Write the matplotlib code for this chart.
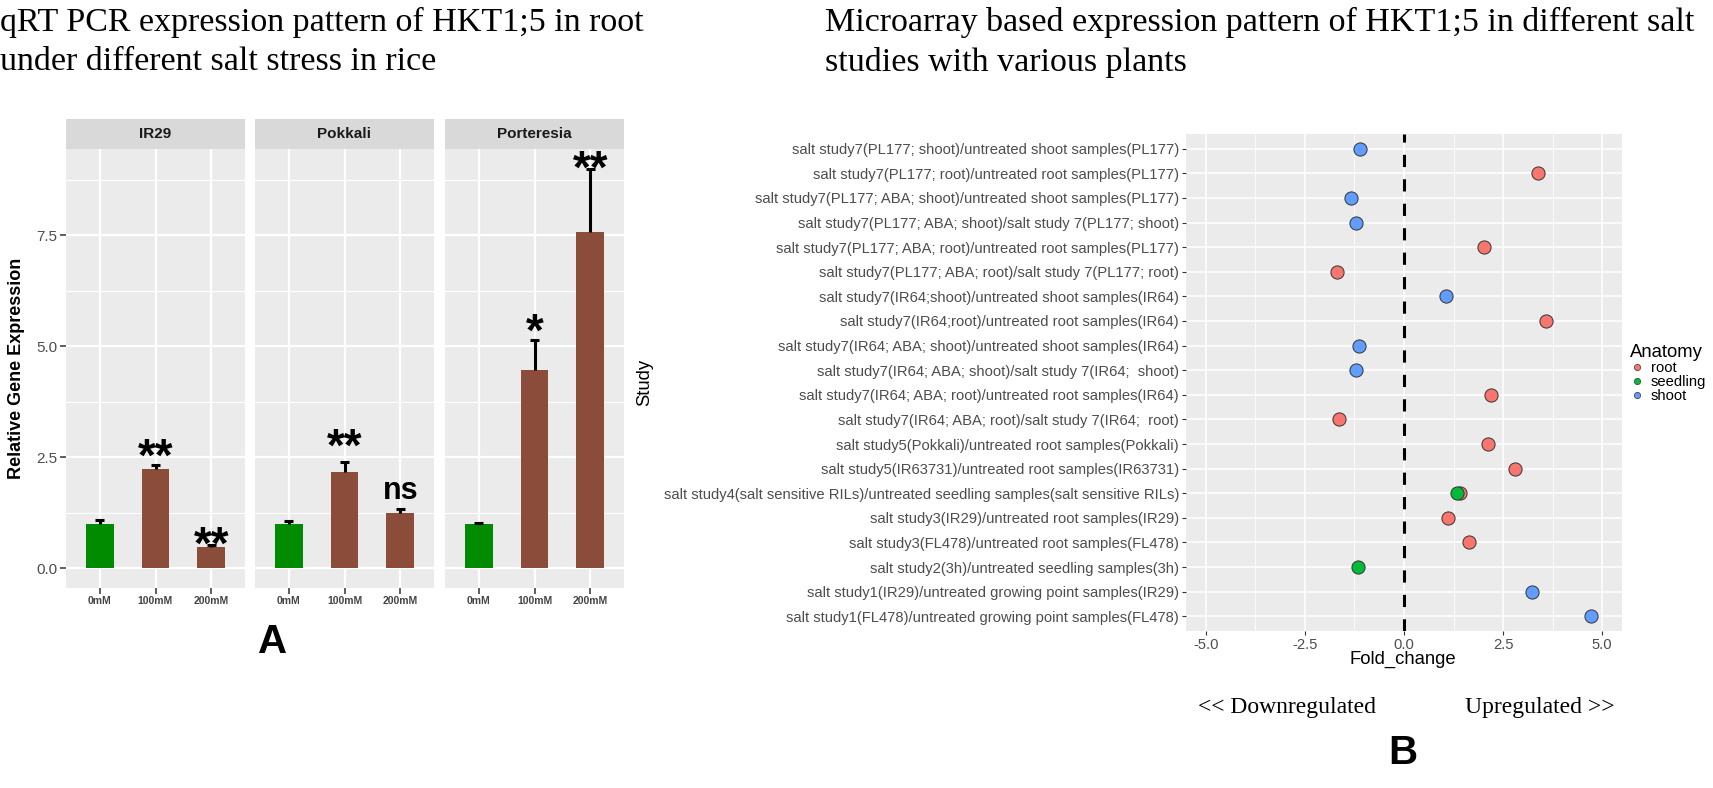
import numpy as np
import matplotlib
matplotlib.use("Agg")
import matplotlib.pyplot as plt
from matplotlib.lines import Line2D

# ── DATA ──────────────────────────────────────────────────────────────────────
conditions = ["0mM", "100mM", "200mM"]
cultivars = ["IR29", "Pokkali", "Porteresia"]

ir29_mean = [1.00, 2.23, 0.48]
ir29_sd = [0.08, 0.09, 0.04]
ir29_sig = ["", "**", "**"]
ir29_sig_y = [0, 2.68, 0.69]

pokkali_mean = [1.00, 2.16, 1.24]
pokkali_sd = [0.05, 0.23, 0.09]
pokkali_sig = ["", "**", "ns"]
pokkali_sig_y = [0, 2.91, 1.73]

porteresia_mean = [1.00, 4.47, 7.58]
porteresia_sd = [0.02, 0.67, 1.42]
porteresia_sig = ["", "*", "**"]
porteresia_sig_y = [0, 5.50, 9.17]

# study labels, top to bottom
studies = [
    "salt study7(PL177; shoot)/untreated shoot samples(PL177)",
    "salt study7(PL177; root)/untreated root samples(PL177)",
    "salt study7(PL177; ABA; shoot)/untreated shoot samples(PL177)",
    "salt study7(PL177; ABA; shoot)/salt study 7(PL177; shoot)",
    "salt study7(PL177; ABA; root)/untreated root samples(PL177)",
    "salt study7(PL177; ABA; root)/salt study 7(PL177; root)",
    "salt study7(IR64;shoot)/untreated shoot samples(IR64)",
    "salt study7(IR64;root)/untreated root samples(IR64)",
    "salt study7(IR64; ABA; shoot)/untreated shoot samples(IR64)",
    "salt study7(IR64; ABA; shoot)/salt study 7(IR64;  shoot)",
    "salt study7(IR64; ABA; root)/untreated root samples(IR64)",
    "salt study7(IR64; ABA; root)/salt study 7(IR64;  root)",
    "salt study5(Pokkali)/untreated root samples(Pokkali)",
    "salt study5(IR63731)/untreated root samples(IR63731)",
    "salt study4(salt sensitive RILs)/untreated seedling samples(salt sensitive RILs)",
    "salt study3(IR29)/untreated root samples(IR29)",
    "salt study3(FL478)/untreated root samples(FL478)",
    "salt study2(3h)/untreated seedling samples(3h)",
    "salt study1(IR29)/untreated growing point samples(IR29)",
    "salt study1(FL478)/untreated growing point samples(FL478)",
]

# points: study index (top to bottom), fold change, anatomy
pt_study = [0, 1, 2, 3, 4, 5, 6, 7, 8, 9, 10, 11, 12, 13, 14, 14, 15, 16, 17, 18, 19]
pt_fold = [-1.11, 3.39, -1.34, -1.22, 2.01, -1.69, 1.07, 3.59, -1.13, -1.22,
           2.20, -1.63, 2.11, 2.79, 1.41, 1.33, 1.12, 1.63, -1.17, 3.22, 4.73]
pt_anat = ["shoot", "root", "shoot", "shoot", "root", "root", "shoot", "root",
           "shoot", "shoot", "root", "root", "root", "root", "root", "seedling",
           "root", "root", "seedling", "shoot", "shoot"]
anatomy = ["root", "seedling", "shoot"]

# ── STYLE ─────────────────────────────────────────────────────────────────────
SANS = "Liberation Sans"
SERIF = "Liberation Serif"
plt.rcParams["font.family"] = SANS
PANEL_BG = "#EBEBEB"
BAR_COLS = ["#008B00", "#8B4C39", "#8B4C39"]
ANAT_COLS = {"root": "#F8766D", "seedling": "#00BA38", "shoot": "#619CFF"}

W, H = 1713, 788
fig = plt.figure(figsize=(W / 100, H / 100), dpi=100)


def px_axes(l, t, r, b):
    return fig.add_axes([l / W, 1 - b / H, (r - l) / W, (b - t) / H])


def fig_text(x, y, s, **kw):
    return fig.text(x / W, 1 - y / H, s, **kw)


# ── TITLES ────────────────────────────────────────────────────────────────────
fig_text(0, 22, "qRT PCR expression pattern of HKT1;5 in root", family=SERIF,
         size=24.5, va="center")
fig_text(0, 62, "under different salt stress in rice", family=SERIF,
         size=24.5, va="center")
fig_text(825, 22, "Microarray based expression pattern of HKT1;5 in different salt",
         family=SERIF, size=24.5, va="center")
fig_text(825, 62, "studies with various plants", family=SERIF, size=24.5, va="center")

# ── PANEL A ───────────────────────────────────────────────────────────────────
means = [ir29_mean, pokkali_mean, porteresia_mean]
sds = [ir29_sd, pokkali_sd, porteresia_sd]
sigs = [ir29_sig, pokkali_sig, porteresia_sig]
sig_ys = [ir29_sig_y, pokkali_sig_y, porteresia_sig_y]

top = max(max(np.add(m, s)) for m, s in zip(means, sds))
ylim = (-0.05 * top, top * 1.05)
facet_left = [66, 255, 445]

for k, cv in enumerate(cultivars):
    l = facet_left[k]
    ax = px_axes(l, 149, l + 179, 588)
    strip = px_axes(l, 119, l + 179, 149)
    strip.set_facecolor("#D9D9D9")
    strip.set_xticks([]); strip.set_yticks([])
    for sp in strip.spines.values():
        sp.set_visible(False)
    strip.text(0.5, 0.5, cv, ha="center", va="center", fontsize=11,
               fontweight="bold", color="#1A1A1A", transform=strip.transAxes)

    x = np.arange(len(conditions))
    m = np.array(means[k]); s = np.array(sds[k])
    ax.set_facecolor(PANEL_BG)
    for sp in ax.spines.values():
        sp.set_visible(False)
    ax.bar(x, m, width=0.5, color=BAR_COLS, zorder=2)
    # upper error bars only (no cap at the bar top)
    ax.vlines(x, m, m + s, color="black", lw=2.2, zorder=3)
    ax.hlines(m + s, x - 0.08, x + 0.08, color="black", lw=2.2, zorder=3)
    for xi, lab, yc in zip(x, sigs[k], sig_ys[k]):
        if not lab:
            continue
        if lab == "ns":
            ax.text(xi, yc - 0.18, lab, ha="center", va="baseline",
                    fontsize=22, fontweight="bold", zorder=4)
        else:
            ax.text(xi, yc - 0.48, lab, ha="center", va="baseline",
                    fontsize=33, fontweight="bold", zorder=4)

    ax.set_xlim(-0.6, 2.6)
    ax.set_ylim(*ylim)
    ax.set_xticks(x)
    ax.set_xticklabels(conditions, fontsize=7.5, fontweight="bold", color="#444444")
    ax.set_yticks([0, 2.5, 5.0, 7.5])
    ax.set_yticks([1.25, 3.75, 6.25, 8.75], minor=True)
    ax.set_xticks([], minor=True)
    ax.set_yticklabels(["0.0", "2.5", "5.0", "7.5"], fontsize=11, color="#4D4D4D")
    ax.grid(which="major", color="white", lw=1.6, zorder=0)
    ax.grid(which="minor", axis="y", color="white", lw=0.8, zorder=0)
    ax.set_axisbelow(True)
    ax.tick_params(which="major", length=4, width=1.1, color="#333333", pad=2)
    ax.tick_params(which="minor", length=0)
    if k > 0:
        ax.tick_params(axis="y", which="both", left=False, labelleft=False)

fig_text(17, 368, "Relative Gene Expression", rotation=90, ha="center",
         va="center", fontsize=13, fontweight="bold")
fig_text(273, 642, "A", ha="center", va="center", fontsize=29, fontweight="bold")

# ── PANEL B ───────────────────────────────────────────────────────────────────
n = len(studies)
ax2 = px_axes(1186, 134, 1622, 631)
ax2.set_facecolor(PANEL_BG)
for sp in ax2.spines.values():
    sp.set_visible(False)
ax2.axvline(0, color="black", lw=2.2, ls=(0, (4, 4)), zorder=2)

ypos = [n - 1 - i for i in pt_study]
for an in anatomy:
    sel = [i for i, a in enumerate(pt_anat) if a == an]
    ax2.scatter([pt_fold[i] for i in sel], [ypos[i] for i in sel], s=90,
                color=ANAT_COLS[an], edgecolor="#333333", linewidth=0.7, zorder=3)

ax2.set_xlim(-5.5, 5.5)
ax2.set_ylim(-0.6, n - 0.4)
xt = [-5.0, -2.5, 0.0, 2.5, 5.0]
ax2.set_xticks(xt)
ax2.set_xticklabels([f"{v:.1f}" for v in xt], fontsize=10.6, color="#4D4D4D")
ax2.set_xticks([-3.75, -1.25, 1.25, 3.75], minor=True)
ax2.set_yticks(np.arange(n))
ax2.set_yticklabels(studies[::-1], fontsize=10.6, color="#4D4D4D")
ax2.grid(which="major", color="white", lw=1.1, zorder=0)
ax2.grid(which="minor", axis="x", color="white", lw=0.55, zorder=0)
ax2.set_axisbelow(True)
ax2.tick_params(which="major", length=3, width=0.8, color="#333333", pad=2)
ax2.tick_params(which="minor", length=0)

fig_text(645, 382, "Study", rotation=90, ha="center", va="center", fontsize=13.3)
fig_text(1403, 659, "Fold_change", ha="center", va="center", fontsize=13.3)

handles = [Line2D([], [], ls="none", marker="o", markersize=4.5,
                  markerfacecolor=ANAT_COLS[a], markeredgecolor="#333333",
                  markeredgewidth=0.5) for a in anatomy]
leg = fig.legend(handles, anatomy, title="Anatomy", loc="upper left",
                 bbox_to_anchor=(1630 / W, 1 - 344 / H), frameon=False,
                 fontsize=10.6, title_fontsize=13.3, labelspacing=0.0,
                 handletextpad=0.4, handlelength=1.0, borderpad=0,
                 borderaxespad=0, alignment="left")

fig_text(1287, 707, "<< Downregulated", family=SERIF, ha="center", va="center",
         fontsize=17)
fig_text(1540, 707, "Upregulated >>", family=SERIF, ha="center", va="center",
         fontsize=17)
fig_text(1403, 753, "B", ha="center", va="center", fontsize=29, fontweight="bold")

fig.savefig("out.png", dpi=100)
